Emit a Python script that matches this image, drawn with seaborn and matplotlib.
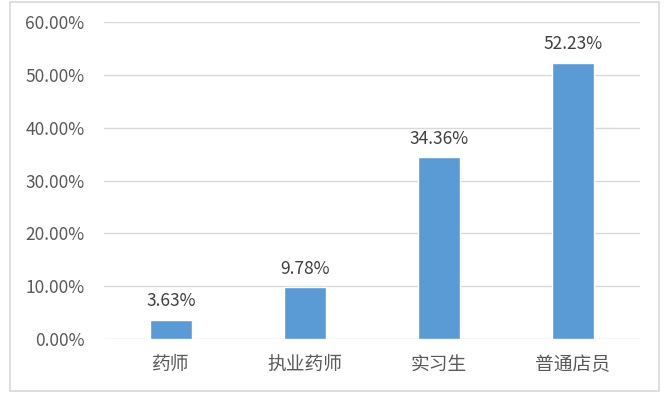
import matplotlib
matplotlib.use("Agg")
import matplotlib.pyplot as plt
import seaborn as sns
import pandas as pd
from matplotlib.patches import Rectangle
from matplotlib.ticker import FuncFormatter

# data
categories = ["药师", "执业药师", "实习生", "普通店员"]
shares = [3.63, 9.78, 34.36, 52.23]
y_ticks = [0, 10, 20, 30, 40, 50, 60]

df = pd.DataFrame({"role": categories, "share": shares})

sns.set_style("white")
plt.rcParams["font.family"] = ["Noto Sans CJK SC", "DejaVu Sans"]

fig = plt.figure(figsize=(6.67, 4.0), dpi=100)
ax = fig.add_axes([0.156, 0.1525, 0.8035, 0.7925])

sns.barplot(data=df, x="role", y="share", color="#5B9BD5", saturation=1,
            width=0.31, ax=ax, zorder=3)

ax.set_ylim(0, 60)
ax.set_yticks(y_ticks)
ax.yaxis.set_major_formatter(FuncFormatter(lambda v, p: f"{v:.2f}%"))
ax.grid(axis="y", color="#D9D9D9", linewidth=1, zorder=0)
ax.set_axisbelow(True)
for s in ax.spines.values():
    s.set_visible(False)
ax.tick_params(axis="both", length=0, colors="#595959")
ax.tick_params(axis="y", labelsize=12.5, pad=14)
ax.tick_params(axis="x", labelsize=13.5, pad=11)
ax.set_xlabel("")
ax.set_ylabel("")

for i, v in enumerate(shares):
    ax.annotate(f"{v:.2f}%", (i, v), xytext=(0, 7), textcoords="offset points",
                ha="center", va="bottom", fontsize=12.5, color="#404040")

# outer chart frame
fig.patches.append(Rectangle((10 / 667, 1 - 391 / 400), 649 / 667, 389 / 400,
                             transform=fig.transFigure, fill=False,
                             edgecolor="#D9D9D9", linewidth=1.2))

fig.savefig("out.png", dpi=100, facecolor="white")
